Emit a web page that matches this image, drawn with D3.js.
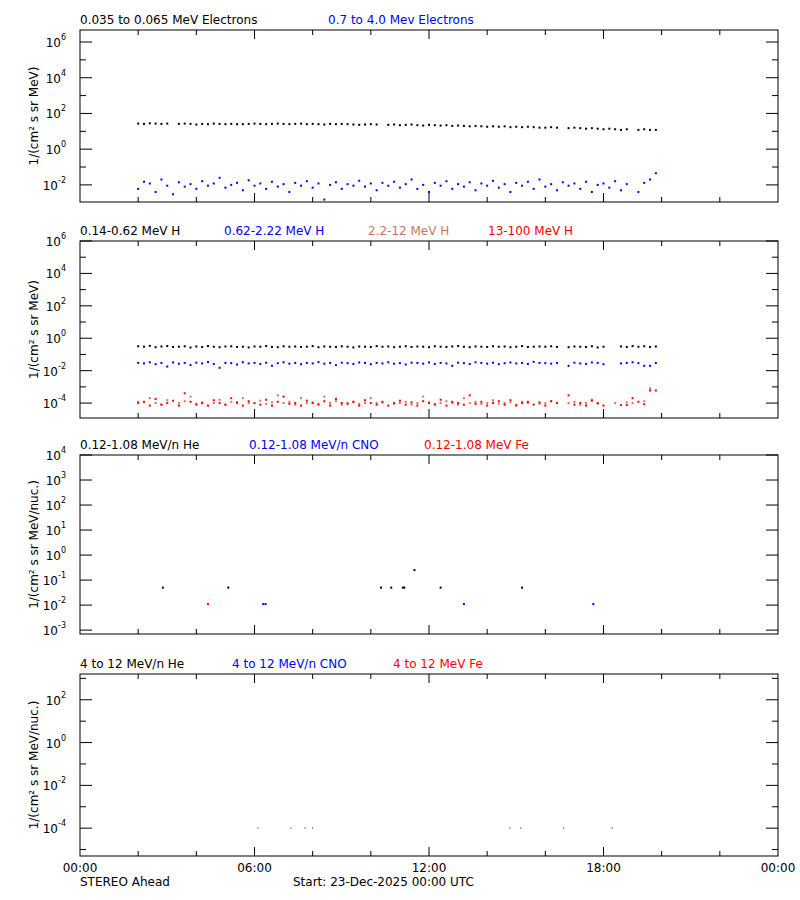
<!DOCTYPE html>
<html><head><meta charset="utf-8">
<script src="https://cdn.jsdelivr.net/npm/d3@7"></script>
<style>body{margin:0;background:#fff}text{font-family:"DejaVu Sans",sans-serif}</style>
</head><body><svg id="c" width="800" height="900"></svg>
<script>
// time grid in hours after 00:00 UTC
var times = d3.range(2, 19.81, 0.2);

var elecLow = [27,26,28,27,26,27,null,26,27,26, 24,26,25,27,26,25,26,25,25,26,
  27,26,25,26,27,26,25,26,27,25, 26,25,24,26,25,26,25,24,23,24, 25,24,null,23,24,22,23,24,22,21,
  23,22,21,22,20,21,20,19,20,19, 18,19,18,19,17,18,17,18,17,16, 16,17,16,null,15,16,15,14,15,14,
  13,14,13,12,13,null,12,13,12,12];
var elecHigh = [0.006,0.015,0.012,0.004,0.02,0.009,0.003,0.014,0.008,0.011, 0.006,0.016,0.009,0.012,0.025,0.007,0.01,0.013,0.005,0.018,
  0.009,0.012,0.006,0.015,0.008,0.011,0.004,0.013,0.009,0.016, 0.007,0.012,0.0015,0.01,0.014,0.006,0.011,0.009,0.017,0.008,
  0.012,0.005,0.013,0.009,0.015,0.007,0.011,0.02,0.006,0.01, 0.004,0.013,0.009,0.016,0.006,0.011,0.008,0.014,0.005,0.012,
  0.009,0.017,0.007,0.011,0.004,0.013,0.009,0.015,0.006,0.02, 0.008,0.011,0.005,0.014,0.009,0.012,0.006,0.015,0.004,0.01,
  0.012,0.007,0.016,0.005,0.011,null,0.004,0.013,0.02,0.045];

var hLow = [0.32,0.3,0.34,0.28,0.31,0.33,0.29,0.3,0.32,0.27, 0.31,0.29,0.33,0.3,0.28,0.31,0.32,0.29,0.3,0.27, 0.31,0.3,0.33,0.29,0.28,0.32,0.3,0.31,0.29,0.3,
  0.33,0.28,0.31,0.3,0.29,0.32,0.3,0.27,0.31,0.3, 0.29,0.33,0.3,0.31,0.28,0.3,0.32,0.29,0.31,0.3, 0.28,0.32,0.3,0.29,0.31,0.33,0.3,0.28,0.31,0.3,
  0.29,0.32,0.3,0.31,0.28,0.3,0.33,0.29,0.3,0.31, 0.3,0.32,0.29,null,0.28,0.31,0.3,0.29,0.32,0.27, 0.3,null,null,0.31,0.29,0.33,0.3,0.32,0.29,0.31];
var hMid = [0.03,0.028,0.033,0.025,0.03,0.018,0.032,0.027,0.03,0.022, 0.031,0.028,0.034,0.026,0.015,0.03,0.029,0.024,0.033,0.028, 0.03,0.026,0.031,0.02,0.029,0.033,0.027,0.03,0.025,0.03,
  0.028,0.034,0.027,0.03,0.022,0.031,0.029,0.026,0.032,0.03, 0.025,0.03,0.028,0.033,0.027,0.029,0.024,0.031,0.03,0.027, 0.032,0.026,0.03,0.028,0.02,0.031,0.029,0.026,0.033,0.03,
  0.027,0.031,0.025,0.029,0.032,0.028,0.03,0.026,0.035,0.03, 0.029,0.027,0.03,null,0.02,0.031,0.028,0.026,0.032,0.03, 0.025,null,null,0.028,0.03,0.033,0.029,0.02,0.02,0.03];
var hHigh = [1.2e-4,null,2e-4,1e-4,0.8e-4,1.5e-4,null,1e-4,1.3e-4,2.5e-4, 0.9e-4,1.1e-4,null,1e-4,1.6e-4,0.8e-4,1.2e-4,1e-4,2e-4,1e-4, null,1.4e-4,0.9e-4,1.1e-4,3e-4,1e-4,1.2e-4,0.8e-4,2e-4,1e-4,
  1.1e-4,0.9e-4,2.5e-4,1e-4,1.3e-4,0.8e-4,1e-4,1.2e-4,0.9e-4,1e-4, 2e-4,1e-4,1.1e-4,null,0.9e-4,1e-4,1.2e-4,0.8e-4,1e-4,2.5e-4, 1.1e-4,0.9e-4,1e-4,1.3e-4,1e-4,0.8e-4,2e-4,1e-4,1.2e-4,0.9e-4,
  1e-4,1.5e-4,0.9e-4,1e-4,1.1e-4,0.8e-4,1.2e-4,1e-4,null,0.9e-4, 1e-4,1.3e-4,null,null,1e-4,1.2e-4,0.8e-4,1e-4,1.6e-4,0.9e-4, null,null,1e-4,null,1.1e-4,1e-4,null,1.3e-4,8e-4,null];
var hVery = [1e-4,1.2e-4,0.7e-4,1.8e-4,0.8e-4,1e-4,1.4e-4,0.7e-4,4e-4,1.2e-4, 0.8e-4,1e-4,0.7e-4,1.5e-4,1e-4,0.8e-4,2e-4,1.1e-4,0.7e-4,1.3e-4, 1e-4,0.8e-4,1.6e-4,0.7e-4,1.2e-4,2.5e-4,0.9e-4,1e-4,0.7e-4,1.4e-4,
  1e-4,0.8e-4,1.3e-4,0.7e-4,1.8e-4,1e-4,0.9e-4,1.2e-4,0.7e-4,1.5e-4, 1e-4,0.8e-4,1.2e-4,0.7e-4,1e-4,1.4e-4,0.8e-4,1.1e-4,0.7e-4,1.3e-4, 1e-4,0.8e-4,1.6e-4,0.7e-4,1.2e-4,1e-4,0.8e-4,3e-4,0.9e-4,1.2e-4,
  0.7e-4,1e-4,1.3e-4,0.8e-4,1.5e-4,0.7e-4,1e-4,1.2e-4,0.8e-4,1.1e-4, 0.7e-4,1.3e-4,1e-4,null,3e-4,0.8e-4,1e-4,0.7e-4,1.4e-4,1e-4, 0.7e-4,null,null,0.75e-4,0.75e-4,2e-4,1.2e-4,0.85e-4,6e-4,6e-4];

// sparse heavy-ion points [hour, value]
var heLow = [[2.85,0.05],[5.1,0.05],[10.35,0.05],[10.7,0.05],[11.1,0.05],[11.15,0.05],[11.5,0.25],[12.4,0.05],[15.2,0.05]];
var cnoLow = [[6.3,0.011],[6.38,0.011],[13.2,0.011],[17.65,0.011]];
var feLow = [[4.4,0.011]];
var heHigh = [[6.12,1e-4],[7.25,1e-4],[7.74,1e-4],[8.0,1e-4],[14.78,1e-4],[15.16,1e-4],[16.63,1e-4],[18.3,1e-4]];

var hourTicks = [0, 6, 12, 18, 24];
var hourLabels = ["00:00", "06:00", "12:00", "18:00", "00:00"];

var svg = d3.select("#c");
var x = d3.scaleLinear().domain([0, 24]).range([80, 778]);

var panels = [
  {top: 30, bottom: 202, dom: [1.1e-3, 4.7e6], exps: [-2,0,2,4,6], minorExps: [-1,1,3,5],
   ylab: "1/(cm\u00b2 s sr MeV)", titles: [["0.035 to 0.065 MeV Electrons","#000",80],["0.7 to 4.0 Mev Electrons","#00f",328]],
   series: [[elecLow,"#000"],[elecHigh,"#00f"]]},
  {top: 241, bottom: 418, dom: [1.2e-5, 1e6], exps: [-4,-2,0,2,4,6], minorExps: [-3,-1,1,3,5],
   ylab: "1/(cm\u00b2 s sr MeV)", titles: [["0.14-0.62 MeV H","#000",80],["0.62-2.22 MeV H","#00f",224],["2.2-12 MeV H","#c87860",368],["13-100 MeV H","#f00",488]],
   series: [[hLow,"#000"],[hMid,"#00f"],[hHigh,"#c87860"],[hVery,"#f00"]]},
  {top: 455, bottom: 634, dom: [7e-4, 1e4], exps: [-3,-2,-1,0,1,2,3,4], minorExps: [],
   ylab: "1/(cm\u00b2 s sr MeV/nuc.)", titles: [["0.12-1.08 MeV/n He","#000",80],["0.12-1.08 MeV/n CNO","#00f",249],["0.12-1.08 MeV Fe","#f00",424]],
   pts: [[heLow,"#000"],[cnoLow,"#00f"],[feLow,"#f00"]]},
  {top: 674, bottom: 856, dom: [5e-6, 1.6e3], exps: [-4,-2,0,2], minorExps: [-5,-3,-1,1,3],
   ylab: "1/(cm\u00b2 s sr MeV/nuc.)", titles: [["4 to 12 MeV/n He","#000",80],["4 to 12 MeV/n CNO","#00f",232],["4 to 12 MeV Fe","#f00",393]],
   pts: [[heHigh,"#000"]], small: true}
];

panels.forEach(function(p, pi) {
  var y = d3.scaleLog().domain(p.dom).range([p.bottom, p.top]);
  var g = svg.append("g");
  g.append("rect").attr("x", 80).attr("y", p.top).attr("width", 698).attr("height", p.bottom - p.top)
    .attr("fill", "none").attr("stroke", "#000").attr("stroke-width", 1);
  // x ticks every 2h, bottom and top
  d3.range(2, 24, 2).forEach(function(h) {
    var len = h % 6 == 0 ? 9 : 5;
    g.append("line").attr("x1", x(h)).attr("x2", x(h)).attr("y1", p.bottom).attr("y2", p.bottom - len).attr("stroke", "#000");
    g.append("line").attr("x1", x(h)).attr("x2", x(h)).attr("y1", p.top).attr("y2", p.top + len).attr("stroke", "#000");
  });
  // y ticks
  p.exps.forEach(function(e) {
    var yy = y(Math.pow(10, e));
    g.append("line").attr("x1", 80).attr("x2", 92).attr("y1", yy).attr("y2", yy).attr("stroke", "#000");
    g.append("line").attr("x1", 778).attr("x2", 766).attr("y1", yy).attr("y2", yy).attr("stroke", "#000");
    var t = g.append("text").attr("x", 66).attr("y", yy + 5).attr("text-anchor", "end").attr("font-size", 12);
    t.append("tspan").text("10");
    t.append("tspan").attr("dy", -7).attr("font-size", 8).text(e);
  });
  p.minorExps.forEach(function(e) {
    var yy = y(Math.pow(10, e));
    if (yy < p.top || yy > p.bottom) return;
    g.append("line").attr("x1", 80).attr("x2", 86).attr("y1", yy).attr("y2", yy).attr("stroke", "#000");
    g.append("line").attr("x1", 778).attr("x2", 772).attr("y1", yy).attr("y2", yy).attr("stroke", "#000");
  });
  // y label
  var mid = (p.top + p.bottom) / 2;
  g.append("text").attr("transform", "translate(38," + mid + ") rotate(-90)").attr("text-anchor", "middle")
    .attr("font-size", 12).text(p.ylab);
  // titles
  p.titles.forEach(function(d) {
    g.append("text").attr("x", d[2]).attr("y", p.top - 6).attr("font-size", 12).attr("fill", d[1]).text(d[0]);
  });
  // data
  (p.series || []).forEach(function(s) {
    g.selectAll(null).data(s[0].map(function(v, i) { return [times[i], v]; }).filter(function(d) { return d[1] != null; }))
      .enter().append("rect").attr("x", function(d) { return x(d[0]) - 1; }).attr("y", function(d) { return y(d[1]) - 1; })
      .attr("width", 2).attr("height", 2).attr("fill", s[1]);
  });
  (p.pts || []).forEach(function(s) {
    var sz = p.small ? 1 : 2;
    g.selectAll(null).data(s[0]).enter().append("rect")
      .attr("x", function(d) { return x(d[0]) - sz / 2; }).attr("y", function(d) { return y(d[1]) - sz / 2; })
      .attr("width", sz).attr("height", sz).attr("fill", s[1]);
  });
});

// bottom axis labels
svg.selectAll(null).data(hourTicks).enter().append("text").attr("x", function(d) { return x(d); }).attr("y", 872)
  .attr("text-anchor", "middle").attr("font-size", 12).text(function(d, i) { return hourLabels[i]; });
svg.append("text").attr("x", 80).attr("y", 886).attr("font-size", 12).text("STEREO Ahead");
svg.append("text").attr("x", 293).attr("y", 886).attr("font-size", 12).text("Start: 23-Dec-2025 00:00 UTC");
</script></body></html>
